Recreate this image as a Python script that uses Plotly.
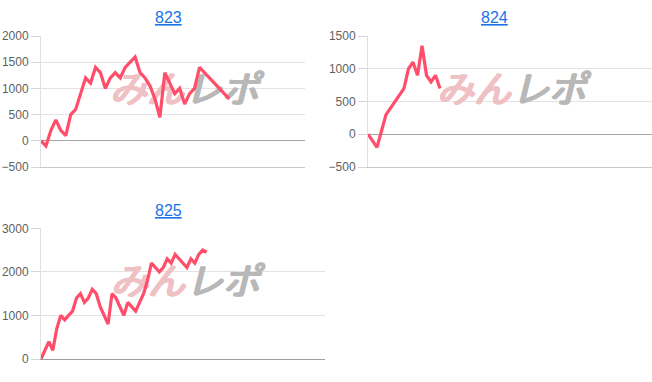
import plotly.graph_objects as go

W, H = 652, 382

# ---------------- data ----------------
titles = ["823", "824", "825"]

c823_x = list(range(33)) + [38]
c823_y = [0, -100, 200, 400, 200, 100, 500, 600, 900, 1200,
          1100, 1400, 1300, 1000, 1200, 1300, 1200, 1400, 1500, 1600,
          1300, 1200, 1050, 800, 450, 1300, 1100, 900, 1000, 700,
          900, 1000, 1400, 800]

c824_x = list(range(17))
c824_y = [0, -100, -200, 50, 300, 400, 500, 600, 700, 1000,
          1100, 900, 1350, 900, 800, 900, 700]

c825_x = list(range(43))
c825_y = [0, 200, 400, 200, 700, 1000, 900, 1000, 1100, 1400,
          1500, 1300, 1400, 1600, 1500, 1200, 1000, 800, 1500, 1400,
          1200, 1000, 1300, 1200, 1100, 1300, 1500, 1800, 2200, 2100,
          2000, 2100, 2300, 2200, 2400, 2300, 2200, 2100, 2300, 2200,
          2400, 2500, 2450]

y_ranges = [(-500, 2000), (-500, 1500), (0, 3000)]
y_dticks = [500, 500, 1000]
x_ranges = [(0, 53.3), (0, 63.1), (0, 72)]

watermark_text = ["みん", "レポ"]
watermark_colors = ["#efc1c5", "#b8b8b8"]

# ---------------- layout geometry (pixels) ----------------
panels = [
    dict(x=c823_x, y=c823_y, xpx=(41, 305), ypx=(36, 167), title_px=(168, 17),
         wm_x=(146, 221), wm_y=93, base="#c8c8c8"),
    dict(x=c824_x, y=c824_y, xpx=(368, 652), ypx=(36, 167), title_px=(495, 18),
         wm_x=(473, 548), wm_y=93, base="#c8c8c8"),
    dict(x=c825_x, y=c825_y, xpx=(41, 325), ypx=(228.3, 359), title_px=(168, 210),
         wm_x=(147, 222), wm_y=285, base="#9e9e9e"),
]

LINE_COLOR = "#ff4d6a"
FONT = "Liberation Sans, Arial, sans-serif"


def px_to_data(p, p0, p1, r0, r1):
    return r0 + (p - p0) / (p1 - p0) * (r1 - r0)


def thick(c):
    return (f"1px 0px 0px {c}, 2px 0px 0px {c}, 0px 1px 0px {c}, "
            f"1px 1px 0px {c}, 2px 1px 0px {c}")


fig = go.Figure()
layout = dict(
    template="none",
    width=W, height=H, autosize=False,
    margin=dict(l=0, r=0, t=0, b=0, pad=0),
    paper_bgcolor="white", plot_bgcolor="white",
    showlegend=False,
    annotations=[],
)

for i, p in enumerate(panels):
    suf = "" if i == 0 else str(i + 1)
    xr, yr = x_ranges[i], y_ranges[i]
    (x0, x1), (y0, y1) = p["xpx"], p["ypx"]

    # watermark text (drawn first so the line sits on top)
    wy = px_to_data(p["wm_y"], y1, y0, yr[0], yr[1])
    for k in range(2):
        wx = px_to_data(p["wm_x"][k], x0, x1, xr[0], xr[1])
        fig.add_trace(go.Scatter(
            x=[wx], y=[wy], mode="text", text=[watermark_text[k]],
            textposition="middle center",
            textfont=dict(family="Noto Sans CJK JP", size=37,
                          color=watermark_colors[k], style="italic",
                          shadow=thick(watermark_colors[k])),
            hoverinfo="skip", xaxis="x" + suf, yaxis="y" + suf,
        ))

    fig.add_trace(go.Scatter(
        x=p["x"], y=p["y"], mode="lines",
        line=dict(color=LINE_COLOR, width=3.2),
        xaxis="x" + suf, yaxis="y" + suf, hoverinfo="skip",
    ))

    layout["xaxis" + suf] = dict(
        domain=[x0 / W, x1 / W], range=list(xr), anchor="y" + suf,
        showgrid=False, zeroline=False, showticklabels=False, ticks="",
        showline=True, linecolor=p["base"], linewidth=1, fixedrange=True,
        automargin=False,
    )
    layout["yaxis" + suf] = dict(
        domain=[1 - y1 / H, 1 - y0 / H], range=list(yr), anchor="x" + suf,
        dtick=y_dticks[i], tick0=0,
        showgrid=True, gridcolor="#e3e3e3", gridwidth=1,
        zeroline=(yr[0] < 0), zerolinecolor="#a6a6a6", zerolinewidth=1,
        showline=True, linecolor="#e0e0e0", linewidth=1,
        ticks="outside", ticklen=9, tickcolor="#d6d6d6",
        tickfont=dict(family=FONT, size=12, color="#5f5f5f"),
        fixedrange=True, automargin=False,
    )

    tx, ty = p["title_px"]
    layout["annotations"].append(dict(
        text=titles[i], xref="paper", yref="paper",
        x=tx / W, y=1 - ty / H, xanchor="center", yanchor="middle",
        showarrow=False,
        font=dict(family=FONT, size=16, color="#1a73e8", lineposition="under"),
    ))

fig.update_layout(**layout)
fig.write_html("out.html")
